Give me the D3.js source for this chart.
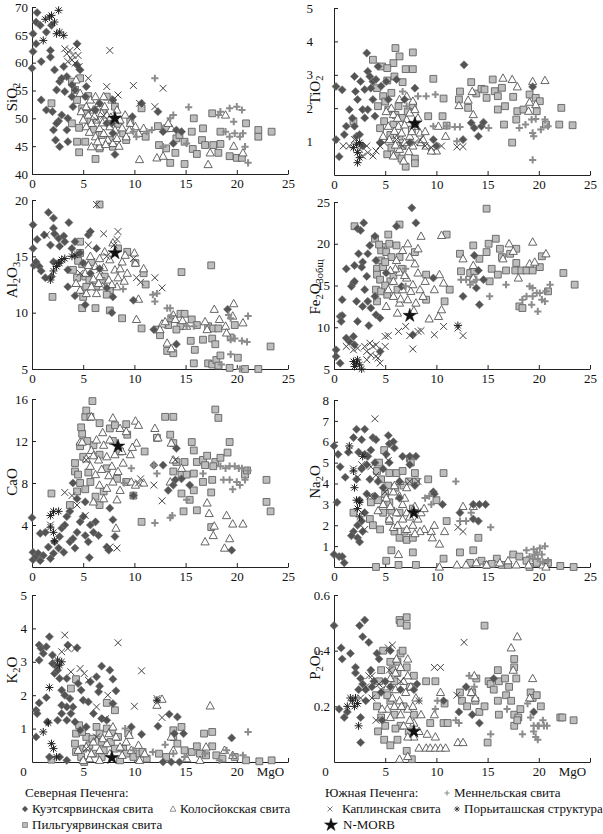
<!DOCTYPE html>
<html>
<head>
<meta charset="utf-8">
<script src="https://cdn.jsdelivr.net/npm/d3@7"></script>
<style>
  body { margin: 0; background: #fff; }
  svg, svg text { font-family: "Liberation Serif", "Times New Roman", "DejaVu Serif", serif; }
</style>
</head>
<body>
<svg id="chart" width="603" height="834" font-family="Liberation Serif, Times New Roman, serif"></svg>
<script>
// values: [MgO, oxide]
var kuetsSiO2 = [[0.5,69],[0.4,67.3],[0.8,66.7],[0.1,65.2],[0.4,63.4],[0.1,62],[0,59],[0.9,60.2],[1.8,62.2],[1.8,61],[1.9,66.7],[1.4,65.5],[0.9,53.3],[1.4,51.5],[2,51.2],[2.1,47.9],[2.3,46.1],[2.7,44.9],[2.6,49.5],[2.9,50.6],[2.4,49.1],[3.4,57.5],[3.2,54.8],[3.9,53.9],[4,52.1],[3.5,50],[3.4,47.9],[3.5,45.8],[2.2,58.7],[2.7,56.6],[2.4,55.1],[2.9,57.2],[4.2,55.1],[4.4,63.4],[4.4,59.6],[4.7,58.7],[3.1,59.3],[3.9,56],[5.3,55.7],[5.2,53.9],[6.6,52.7],[6.2,51.5],[7.3,49.1],[7.9,47.3],[8.1,43.5],[7.8,49.1],[7.9,53.3],[9.8,50.3],[10.7,52.7],[12.3,51.2],[12.8,47.6],[14.1,47.9],[13.8,45.5],[14.6,47.6]];
var kolosSiO2 = [[10.5,42.6],[12.2,42.9],[12.8,43.2],[17.4,43.8],[17.2,41.7],[19.7,45],[20.6,43.8],[18.9,50.6],[13.6,48.2],[13.3,49.1],[4.3,56.9],[4.7,54.5],[5.3,52.1],[5.7,53.3],[6,51.5],[6.5,52.7],[6.8,50.9],[7.1,52.1],[7.3,50.6],[6.3,49.7],[5.8,49.1],[5.3,48.5],[6.6,48.2],[7.6,48.5],[8.1,47.9],[7,47.3],[6.2,46.7],[7.4,46.1],[7.9,45.5],[6.6,44.9],[5.8,44.9],[8.6,49.7],[9.1,50.6],[9.6,49.1],[10.1,48.5],[10.4,47.3],[10.9,48.2],[8.3,51.5],[5.5,50.6],[5,49.7],[7.8,53.3],[7,53.9],[6.2,53.9],[9.2,46.7],[8.3,46.4],[5.6,47.5],[6.9,49.2],[7.7,50.2],[8.8,48.3],[6.1,50.4],[7.2,45.3],[8.5,45],[9.5,47.9],[4.8,51.2],[6.4,45.8]];
var pilgSiO2 = [[3.9,56.6],[4.7,57.2],[4.2,55.1],[4.4,53.3],[4.9,51.8],[3.9,49.1],[4.4,45.8],[4.6,43.9],[5.2,45.8],[6.2,42.7],[5.7,49.7],[6.6,44.6],[7.3,53.9],[8.1,52.1],[7.9,44.9],[7.6,46.1],[8.9,47.3],[9.2,46.1],[1.9,52.7],[10.7,51.8],[11.1,46.7],[12.3,48.6],[12.4,45.2],[13.1,44.6],[13.5,42],[14.1,46.4],[14,43.8],[14.9,45.8],[14.9,41.8],[15.6,47.6],[15.8,50],[15.7,44.5],[16.1,43.6],[16.6,46.1],[16.7,48.2],[16.9,45.2],[17.6,50.9],[17.7,45.2],[18.2,43.8],[18.4,47.6],[18.4,45.4],[19.3,43.2],[20,42.9],[20.9,49.1],[20.5,42.9],[22.1,47.9],[22.1,46.7],[23.4,47.6],[13.1,48.2],[14.4,47],[5.3,50.8],[6,48],[6.8,47],[7,51.2],[8.4,49],[5.5,54],[4.6,48.3],[9.6,49.5]];
var mennelSiO2 = [[12,57.2],[15.3,52],[13.5,50],[13.8,50.6],[11.7,47.9],[11.2,47.6],[12.8,44.9],[18.4,51.2],[19.3,51.8],[20,52.1],[20.5,51.5],[19.7,49.4],[18.9,47.6],[19.3,46.7],[19.8,47.3],[20.6,47.3],[20.8,44.9],[21.1,42],[20.3,46.7],[15.1,45.5],[9.9,47.6],[10.2,46.7],[18.2,50.6]];
var kaplinSiO2 = [[3.2,62.5],[3.7,62.2],[3.4,61.6],[4,61.3],[3.9,60.5],[4.5,61.3],[3.5,60.2],[4.2,59.9],[4.4,62.8],[4.6,59.3],[5.5,57.2],[7.6,62.2],[7.3,55.7],[8.4,54.2],[9.9,55.9],[12.8,55.4],[12,52.1],[10.5,52.7],[6.3,49.7],[5.8,51.5],[7,50.5]];
var poritSiO2 = [[2.6,69.4],[1.9,68.5],[1.3,67.8],[1.7,68.2],[2.7,65.5],[2.4,65.2],[3.1,64.9],[1.1,64],[2.2,67.3]];

var kuetsTiO2 = [[0.2,2.65],[0.8,2.55],[0.2,1.06],[0.5,0.55],[1.5,1.96],[1.8,1.7],[2,1.46],[2.2,1.16],[1,1.21],[1.2,1.46],[2,2.95],[2.1,2.5],[2.3,2.26],[2.6,2.8],[3,2.56],[3.3,3.1],[3.2,3.65],[3.5,2.95],[3.6,2.6],[3.8,2.26],[2.8,1.96],[3,1.71],[3.3,1.96],[3.8,2.8],[4.1,2.86],[4.3,3.25],[4,1.76],[2.8,0.87],[2.5,1.21],[4.5,0.97],[5.3,2.26],[6.1,2.86],[7.9,2.6],[6.9,2.26],[7.9,1.51],[7.4,0.97],[9.7,1.06],[10,0.87],[12.7,3.3],[12.6,1.06],[13.4,1.56],[13.7,1.41],[14.4,1.46],[14.1,1.16],[14.6,1.58],[19.4,2.64],[4.6,2.66],[5.1,2.8]];
var kolosTiO2 = [[16.5,2.9],[17.4,2.86],[17.9,2.64],[19.4,2.8],[20.6,2.83],[13.6,1.81],[13.5,2.5],[12.2,2.08],[13.1,2.24],[19,1.91],[19.7,2.11],[19.1,2.18],[10.9,1.16],[10.2,1.46],[10,0.72],[6.8,0.42],[5.8,0.57],[5.3,1.46],[5.8,1.81],[6.3,1.46],[6.6,1.26],[7.1,1.66],[7.4,1.86],[7.9,1.96],[8,1.46],[8.4,1.26],[6.1,1.06],[6.9,0.97],[7.4,1.16],[6.4,2.26],[7.1,2.36],[7.7,2.21],[5.4,1.06],[7.7,0.87],[8.5,0.97],[9,0.87],[9.5,0.72],[6.4,0.77],[4.8,1.16],[8.2,1.71],[8.7,1.06],[5.9,1.31],[5.6,2],[6.9,1.5],[7.6,1.3],[6.2,1.7],[8.9,1.3],[5.1,1.9],[7.3,0.7],[6,0.9]];
var pilgTiO2 = [[6,3.8],[6.4,3.55],[5.8,3.35],[4.7,3.25],[5.2,3.2],[3.8,3.45],[7.7,3.67],[7,3.17],[7.7,3.17],[5.9,2.95],[6.7,2.78],[5.2,2.83],[9.7,2.88],[10.7,2.29],[4.2,2.6],[4.8,2.36],[5.6,2.46],[4.3,2.06],[5.3,1.96],[6.3,2.06],[4.9,1.61],[5.8,1.51],[6.7,1.71],[7.6,1.36],[7.7,2.08],[9.2,1.76],[10.6,1.76],[11,1.48],[5.2,0.62],[6.1,0.59],[6.6,0.49],[7,0.25],[7.9,0.49],[7.9,0.35],[6.7,0.87],[5.6,0.82],[1.9,1.61],[12.3,2.5],[12.2,2.26],[13.1,2.01],[13.4,2.78],[13.9,2.44],[14.4,2.58],[14.9,2.31],[14.7,2.56],[15.5,2.86],[15.7,2.51],[16,2.36],[16.4,2.61],[16,1.96],[16.7,2.06],[16.6,1.51],[17.4,0.97],[17.5,2.34],[17.9,1.91],[18.5,1.96],[19.1,2.41],[19.7,2.31],[20.1,2.21],[19.8,1.91],[20.7,1.51],[22,1.51],[22.2,2.01],[23.3,1.49],[17.8,1.66],[5,2.2],[6,1.8],[7.2,1.9],[5.5,1.2],[6.4,1.15],[4.5,1.4]];
var mennelTiO2 = [[6.7,2.5],[8.2,2.36],[9,2.36],[9.9,2.41],[9.7,1.46],[11,1.46],[11.8,1.44],[12.3,1.44],[12,1.01],[15.1,1.41],[18.1,1.41],[18.7,1.51],[19.3,1.66],[19.7,1.68],[20.6,1.66],[19.4,1.26],[19.5,1.16],[20.2,1.36],[20.9,1.46],[19.4,0.45],[7.1,2.06]];
var kaplinTiO2 = [[0.9,0.87],[1.5,0.87],[2.5,0.77],[2.8,0.57],[3.3,0.67],[3.8,0.57],[4.1,0.72],[4.5,0.87],[4.9,0.97],[3.2,0.87],[2,1.06],[7.9,0.97],[8.4,1.06],[8.9,0.87],[9.5,0.82],[10.5,0.87],[12,0.84],[12.6,0.85],[6.1,1.06],[6.7,0.87]];
var poritTiO2 = [[2.2,0.92],[2.3,0.67],[2.3,0.37],[2.5,0.52],[1.9,0.82],[2.5,0.97]];

var kuetsAl2O3 = [[0.1,17.8],[0.1,15.7],[0.2,14.2],[0.4,14.5],[0.5,16.5],[0.7,14.1],[0.9,13.7],[1.2,16.9],[1.6,18.9],[2.1,18.4],[2.1,17.5],[2.2,17],[1.8,16],[2.6,16.6],[2.7,15.9],[1.3,13.1],[1.9,13.2],[2.1,14.5],[3.1,16.8],[3.6,18],[3.2,16.3],[3.9,15.7],[4.2,16.3],[3.5,13.8],[3.5,12.3],[4.2,11.5],[5.2,10.7],[5.5,16.9],[5.7,17.2],[6.3,15.7],[6.6,13.9],[7.3,12.2],[7.8,10],[7.9,11.4],[9.9,11.1],[11.9,8.5],[14.1,7.2],[19.1,10.3],[4.7,15.3],[5,14.4],[5.7,13.5]];
var kolosAl2O3 = [[7.1,15.4],[7.9,16.2],[8.8,14.5],[9.1,15.1],[10,15.3],[10.1,14.4],[10.9,13.9],[10.4,11.2],[10.2,9.4],[12.7,9],[12.5,8.5],[13,9.2],[13.2,7.3],[13.6,6.8],[13.8,9.8],[14,9.4],[14.7,9.3],[15.1,8.8],[16.9,9.2],[17.8,10.3],[18.3,9.4],[18.9,8.8],[19.7,10.8],[19.6,9.7],[19,8.2],[20.6,9.1],[17.1,8.5],[5.7,15],[6.2,14.1],[6.6,13.2],[6.9,12.3],[7.5,12.9],[8.1,13.8],[8.4,13.1],[5.8,12.3],[5.3,11.7],[6.3,11.7],[4.7,12],[7.6,14.7],[6.6,14.8],[8.6,13.9],[9.3,13.5],[8.3,12.3],[4.3,12.6],[5.2,13.5],[6,13],[7,14],[7.8,12.5],[9,12.8],[6.5,12.6],[5.5,14.2]];
var pilgAl2O3 = [[6.6,19.6],[4.7,16.3],[4.7,15.3],[4.9,14.3],[5.2,13.2],[4.4,13.1],[4,13.8],[5,12],[5.3,12.3],[4.9,10.4],[6.2,10.4],[5,11.4],[2,11.4],[7.6,10.2],[8.8,9.5],[8.4,15.7],[9.3,15.4],[10.1,14.4],[10.9,13.5],[11.1,12.5],[10.7,8.6],[14.6,13.6],[17.5,14.2],[7.1,13.2],[6.3,12.3],[7.6,12],[12.3,8.5],[12.5,8],[13.2,6.6],[13.8,6.4],[14.5,9.9],[14.9,9.9],[14.5,8.8],[14.1,8.5],[13.3,8.9],[13.6,9.5],[15.6,9.4],[16.1,8.9],[15.5,7.5],[15.9,6.7],[15.8,5.5],[16.7,7.6],[17.2,8.8],[17.6,7.7],[17.9,7.2],[17.7,8.6],[18.2,8.6],[17.2,5.5],[17.6,5.4],[18,5.8],[18.4,6.2],[18.2,5.3],[19.3,5.1],[19.8,8.9],[20.1,6],[20.8,5],[22.1,5],[23.3,7],[19.4,7.8],[5.8,14.5],[6.8,12.8],[5.6,12.9],[4.5,14.6],[7.3,11.6]];
var mennelAl2O3 = [[8.9,12.1],[11.8,11.6],[12.2,11.7],[12,11],[13.2,10.4],[13.5,10.4],[13.6,9.7],[15.1,8.8],[15.8,8.8],[19.2,9.8],[19.4,9.5],[21.1,9.7],[19.4,7.6],[19.8,7.7],[20.5,7.5],[21,7.4],[19.4,6.3],[18.5,5.4],[20.3,5]];
var kaplinAl2O3 = [[6.3,19.6],[5.5,16],[7,17],[8.4,17.2],[8.3,16.5],[8,16],[9.9,14.8],[10.2,13.1],[10.6,12.7],[12,13.1],[12.7,12.2],[4.7,13.5],[1.4,16.9],[6.6,13.8],[7.3,15]];
var poritAl2O3 = [[2.4,14.1],[2.9,14.7],[2.6,14.4],[3.2,14.8],[1.8,12.9],[4.2,15.1],[2.1,13.7],[3.9,15],[2.7,14.4]];

var kuetsFe2O3 = [[0.2,7.3],[0.2,6.5],[0.6,5.7],[0.6,11.3],[0.8,11.4],[0.7,10.7],[0.8,13.3],[1.2,17],[1.7,14.9],[1.9,15.3],[2,17.4],[2.2,13.1],[2.3,10.7],[2,15.5],[2.3,21.8],[2.6,21.6],[2.9,22.5],[2.4,18.8],[2.8,17.8],[2.7,17.2],[3.3,18.8],[3.5,19.8],[3.2,16.1],[3,14.5],[3.3,13.1],[2.8,12.5],[3.6,12.3],[4,13.7],[4,20.9],[4.1,18],[4.1,11.5],[4.5,11.1],[3.4,10.2],[1.9,8.9],[1.5,8.3],[2,7.9],[1.2,8.7],[4.5,7.1],[6.1,22.1],[7.6,24.3],[8,22.5],[6.6,14.9],[9.7,15.9],[12.6,13.7],[14.2,12.7],[13.7,18.6],[13.9,14.7],[14.1,16.8],[14.6,15.7],[7.7,9.1],[5.1,16.5]];
var kolosFe2O3 = [[7.2,20],[8.5,20.9],[10.5,21],[10.3,16.3],[10.7,15.3],[9.8,14.5],[10.5,12.1],[10.2,11.3],[9.3,11],[8.4,14.5],[6.7,19.2],[7.4,18.4],[7.9,17.6],[8.2,16.5],[6.1,18],[6.4,16.6],[7.1,15.9],[7.7,15.1],[6.7,14.5],[5.8,13.7],[6.4,12.9],[7.2,13.3],[8,12.9],[8.7,13.7],[5.8,15.5],[5.3,14.5],[6.2,11.7],[5.1,12.5],[13.6,17.4],[13.6,15.9],[12.6,18.2],[16.5,18.2],[17.1,20],[17.5,19.1],[18,15.9],[19.1,17.6],[19.4,20.2],[19.6,17.8],[20.7,18.8],[8.2,19.4],[6,17],[6.9,16.2],[7.5,14.3],[6.5,13.4],[7.8,12],[5.5,16.8],[8.9,15.5]];
var pilgFe2O3 = [[2,22.1],[4,20.6],[6.4,22.3],[5.3,21.1],[4.8,19.6],[5.4,20],[4.6,19.2],[5.1,19],[4.6,18],[4.2,17],[4.2,16.3],[4.5,15.7],[4.8,17.2],[5.6,18.4],[6.1,19.8],[6.4,18.4],[6.6,17],[4.1,14.5],[4.6,14.3],[4.2,13.1],[5.2,13.9],[5.5,15.5],[7.9,19],[9,16.3],[11,21.1],[10.8,13.1],[11.3,14.5],[14.9,24.2],[13.6,19.8],[12.3,18.8],[12.4,16.7],[13.3,16.5],[14.2,18.2],[13.7,16.7],[13.6,15.7],[14.9,19],[15.1,20],[15.8,20.6],[15.4,17],[15.2,15.5],[16.2,19.4],[16.4,18.4],[16,16.3],[16.8,16.8],[17.2,18.8],[17.8,19.4],[17.8,17.7],[17.7,16.8],[18.3,16.8],[18.8,16.8],[19.4,16.8],[20.1,17.2],[20.3,18.5],[18.1,12.5],[18.4,12.3],[22.4,16.5],[23.5,15.1],[20.9,14.3],[9,13.3],[5,17.8],[5.8,16.2],[6.2,14.5],[5,15],[4.4,19.9]];
var mennelFe2O3 = [[7,17],[7,14.9],[12.9,15.7],[12.4,15.7],[13.3,15.1],[13.9,15.7],[15.2,13.7],[16.8,15.1],[18.4,13.3],[18.8,13.7],[19.1,14.9],[19.4,14.7],[19.8,14.1],[19.3,12.7],[19.9,11.9],[20.3,13.3],[20.6,13.1],[20.7,14.3],[21.1,15.1],[19.4,13.7],[20.1,14.1]];
var kaplinFe2O3 = [[1.2,7.7],[1.9,7.3],[2.3,7.5],[3,7.7],[3.5,8.1],[3.8,7.7],[3.2,7.1],[3.6,6.7],[4.1,6.5],[3.2,6.1],[4.1,7.9],[5,8.9],[5.3,9],[4.5,5.7],[4.3,6.3],[6.3,9.5],[7,10.1],[7.4,9],[7.7,7.4],[8.2,9.5],[8.5,9.6],[9.8,9.1],[10.7,10.1],[12.1,9.9],[12.6,9],[5,7.7]];
var poritFe2O3 = [[2.2,5.7],[2,5.3],[2.5,5.5],[2.3,6.1],[1.9,5.9],[2.7,5],[12.1,10.2]];

var kuetsCaO = [[0,4.7],[0.1,1.4],[0.1,0.7],[0.4,1],[0.6,1.3],[0.8,0.6],[1.1,1.1],[0.8,3.2],[1.3,3.3],[1.6,1.9],[1.8,0.8],[2.1,1.3],[2.2,2.4],[2.6,1.8],[2.7,2.9],[2.9,3.7],[3.2,4],[3.4,4.8],[3.7,5.3],[3.1,1.4],[3.7,2.4],[4.2,1.8],[4.4,3.3],[4,2.7],[4.7,4.3],[5,4.8],[5.2,3],[5.5,2.4],[5.6,0.9],[6,3.3],[6.5,3],[5.7,4],[6.2,4.3],[4,8],[4.4,6.5],[5.2,6.2],[7.3,1.9],[7.5,1.6],[7.9,4.5],[8.1,2.9],[7.6,5.6],[9.9,6.8],[11.9,9.7],[12.8,9.7],[14.1,11.3],[13.8,7.8],[13.3,7.3],[14.6,8.4],[15.4,7.8],[19.5,1.6],[14,8.3]];
var kolosCaO = [[4.7,11.9],[5.8,14.3],[7.9,14.2],[8.6,13.2],[9.2,12.9],[10.1,13.9],[10.4,13.5],[10.2,11.8],[9.6,10.7],[8.9,9.9],[8.4,9.1],[7.9,8.1],[7.3,7.5],[6.6,7.8],[6.2,8.8],[5.7,9.6],[6.5,10.2],[7,11.6],[7.6,12.1],[6.3,12.1],[5.8,11.1],[7.3,10.5],[8.1,10.7],[7.8,9.6],[8.6,7.3],[8.3,6.4],[7,6.5],[6,6.2],[9.7,8.1],[10.1,7.8],[10.9,8],[12,13.2],[12.3,12.3],[13.6,11.8],[13.8,10.2],[13.5,8.1],[14.6,9.4],[17.1,6.1],[17.3,5.1],[16.9,2.4],[17.7,3],[17.8,3.9],[18.8,1.8],[19,4.9],[19.3,2.7],[19.6,4.1],[20.6,4.1],[8.2,3.7],[4.9,11.9],[6.8,9.3],[7.5,8.7],[6,10.6],[8.8,11],[9.8,11.4],[5.3,10.3],[6.9,12.8]];
var pilgCaO = [[4.9,12.7],[4.7,11.5],[5.2,14.3],[5.3,14.9],[5.9,15.8],[5.7,14.3],[4.8,13.3],[4.2,9.9],[4.2,9.1],[4.5,8.8],[4.7,8],[4.4,7.2],[3.7,5.9],[1.9,7],[6.6,13.7],[7.6,13.2],[8.1,13.5],[9.2,13.6],[9.3,12.6],[8.6,11],[6.6,10.7],[7.3,9.4],[8.3,8.4],[5.7,8.1],[6.2,6.7],[7,7.2],[6.6,5.9],[9.2,8.1],[9.9,6.8],[11,11],[10.7,4.3],[12.2,12.3],[13,14.3],[13.8,14.3],[13.5,12.6],[13.8,11.8],[14.1,10],[13.8,9.1],[14.6,8.8],[14.6,7],[14.8,5.3],[14.9,10],[15.1,8.8],[15.4,6.4],[15.6,11.9],[15.8,11.1],[15.8,8.9],[15.8,7.3],[16.1,5.4],[16.1,10],[16.7,10.2],[16.7,8.1],[17.1,10.6],[17.6,8.3],[17.5,7.1],[17.5,3.8],[17.9,15],[18.2,14.2],[17.9,10],[18.4,10.4],[19.1,10.9],[19.3,11.9],[20.8,8.8],[21,9.2],[22.9,8.3],[22.9,6.2],[23.3,5.3],[17.7,9.6],[16.9,9.7],[5,10.5],[5.5,9],[6,11.6],[5.2,7.4],[7.9,12],[5.4,12]];
var mennelCaO = [[9.7,9.4],[9,8],[11.9,9.7],[12.2,8.9],[12,4.2],[13.5,4.7],[13.7,4.9],[15.1,6.4],[18.4,9.6],[18.9,9.4],[19.3,9.6],[19.8,9.6],[20.2,9.4],[20.5,9.4],[21.1,9.2],[18.7,8.3],[19.3,8.3],[19.6,7.4],[20,8.1],[20.3,7.8],[20.8,8.3],[16.7,8.9]];
var kaplinCaO = [[3.2,7.1],[4.4,5.9],[5.2,4.9],[3.9,6.8],[5.3,10.2],[7.6,1.9],[8.3,1.8],[10.4,8],[10.6,8.4],[11.9,7.8],[12.7,6.3],[14,10.2],[1.8,4]];
var poritCaO = [[1.8,4.9],[2.1,5.3],[2.6,5.3],[1.8,3.8],[2.2,2.5],[2.1,3.3]];

var kuetsNa2O = [[0,5.8],[0.4,5.4],[0.6,4.8],[0.3,3.1],[0,0.6],[0.5,0.5],[0.8,0.5],[1,0.2],[1.1,4.3],[1.4,5.5],[1.9,6.2],[2.2,6.6],[2.7,6.1],[3,6.6],[2.4,5.5],[3,5.4],[3.3,5.3],[3.6,5.6],[3.8,6.2],[4.1,6.1],[4,5],[3.2,4.9],[2.7,4.7],[2.2,4.2],[3.5,4.2],[4.3,4.1],[4.8,3.8],[4,3.4],[3.2,3.5],[2.5,3.2],[3,2.6],[2.7,2.2],[2.3,2],[1.9,1.7],[1.7,1.5],[2.3,1.4],[2.5,1.2],[2.8,1.7],[5.3,6.3],[5.4,5.9],[5.8,6],[5.9,5.7],[5.1,5.4],[4.8,4.7],[5.4,5],[6.7,5.3],[7.4,5.3],[8,5.3],[7.4,4.9],[7.9,3.9],[9.7,3.6],[9.8,3.5],[10.6,3],[12.3,2.6],[13.6,3],[14.2,3],[14.8,3],[13.6,2.3],[14.1,2.2],[6.4,4.1],[6.4,3.3]];
var kolosNa2O = [[5.1,3.3],[5.8,3.6],[6.4,3.4],[6.7,3],[6.1,2.6],[5.4,2.3],[5.8,1.9],[6.7,2.3],[7.1,1.8],[7.7,2],[8.2,2.3],[8.5,2.6],[8.8,1.8],[7.1,2.6],[4.8,3],[4.3,2.7],[6.4,4.1],[7.1,3.8],[8.4,1.7],[9.5,1.7],[9.6,1.4],[9.8,2],[10.8,1.7],[10.3,1.1],[10.3,0],[12.6,2.9],[13.6,2.9],[6.3,0.6],[12,0.1],[12.9,0.1],[13.9,0.2],[14.9,0.1],[16.2,0.2],[17,0.3],[17.8,0.1],[19,0.1],[20.4,0.1],[20.7,0],[7.9,2.9],[5.5,2.9],[6.9,3.3],[7.4,2.4],[6.2,2],[7.9,1.6],[5.9,3.9],[8.8,2.8]];
var pilgNa2O = [[4.2,4.6],[4.4,5],[4.9,5.6],[5.4,4.5],[6.1,4.5],[6.7,4.6],[7.4,5.2],[7.5,5],[7.9,4.5],[8,4.1],[7.3,4.1],[5.3,3.9],[4.3,3.2],[3.6,3.1],[3.5,2.3],[3.8,2],[4.5,1.8],[1.9,2.6],[4.8,2.6],[5.4,2.2],[5.9,1.7],[6.4,1.4],[7.1,1.3],[7.7,1.4],[6.4,2.6],[7.7,2.8],[5.4,3.1],[9.2,4.2],[10,3.2],[10.7,4.5],[11,2.2],[10.7,0.4],[5.6,0.8],[5.1,0.3],[6.3,0.1],[4.1,0],[7.7,0.7],[8,0.1],[12.3,0.7],[13.6,0.8],[14.1,1.4],[13.3,0.2],[14.4,0.3],[14.9,0.1],[15.9,0.4],[16.4,0.1],[17.5,0.6],[18.1,0.5],[18.8,0.3],[19.8,0.2],[20.9,0.2],[22.1,0.05],[23.4,0],[17,0.1],[15.4,0.15],[19.1,0],[5,3.5],[6,3.8],[6.8,3.9],[5.6,2.7],[6.9,1.7],[4.6,4.2]];
var mennelNa2O = [[8.9,3.3],[9.3,3.4],[9.5,3],[11.9,4.1],[12.3,2.2],[12.9,2.2],[13.4,2.6],[15.3,1.9],[18.8,0.8],[19.5,0.85],[19.8,0.7],[19.1,0.5],[19.4,0.4],[19.9,0.4],[20.3,0.6],[20.6,1],[20.9,0.3],[20.4,0.25],[20.1,0.9],[19.6,0.6]];
var kaplinNa2O = [[4,7.1],[1.5,5.6],[1.9,4.7],[2.3,4.3],[2.7,4.9],[3.6,4.8],[4.1,4.4],[3.5,3.4],[5.3,5.1],[3,1.8],[2.7,2.6],[7.4,4.1],[8.2,4.1],[12.1,1.9],[12.6,1.7],[5,3.6]];
var poritNa2O = [[1.5,5.8],[2,3.8],[2.2,3.2],[2.5,3.1],[2.3,2.8],[2.5,2.4],[2.8,5.3],[1.9,4.6]];

var kuetsK2O = [[0.4,0.75],[0.4,1.55],[0.5,1.45],[0.7,1.77],[0.7,3.5],[0.9,3.4],[0.7,3.05],[1.1,3.25],[1.4,3.45],[1.7,3.75],[1.4,1.93],[1.5,1.2],[2,3.2],[2,2.95],[2.4,2.85],[2.2,2.65],[2.5,2.75],[2.7,2.5],[3.4,2.5],[3.5,3.5],[4.4,3.42],[2.9,2.15],[2.9,1.7],[2.9,1.45],[2.5,1.25],[3.2,2],[3.4,1.65],[3.7,1.9],[3.8,1.45],[3.4,1.25],[4.2,1.2],[4,1.65],[4.5,2.35],[4.8,2.15],[5,1.85],[5.5,1.8],[5.7,2.4],[6.3,2.55],[6.8,2.87],[6.6,2.27],[6.5,2.1],[6,1.45],[6.8,1.3],[7.3,1.25],[7.6,2.75],[7.9,2.48],[8.2,2.13],[7.9,1.75],[9.7,1.05],[10.7,0.83],[12.3,1.07],[13.4,1.43],[14.2,1.35],[13.9,0.85],[14.8,0.85],[19.5,0.72],[1.7,0.15],[2.7,0.15],[4.7,0.95],[5.3,1.05],[3.4,0.05],[12.8,0],[13.6,0],[14.4,0]];
var kolosK2O = [[4.5,0.35],[5.3,0.45],[6,0.6],[6.6,0.35],[7.3,0.55],[7.9,1.05],[8.2,0.75],[8.6,0.45],[9.2,0.6],[9.7,0.35],[10.4,0.5],[10.5,0.05],[12.2,1.7],[12.7,1.88],[13.6,0.75],[13.8,0.35],[15.1,0.1],[16.4,0.05],[17,0.45],[17.4,1.68],[18.8,0.35],[19.6,0.2],[7.6,0.25],[5.6,0.1],[6.6,0.05],[5,0.05],[5.8,0.25],[6.9,0.7],[7.5,0.85],[8.8,0.2],[9.5,0.8],[11,0.25]];
var pilgK2O = [[1.9,0.07],[4.3,2.48],[3.8,2.2],[4.6,1.1],[4.3,0.85],[4.2,0.55],[4.3,0.3],[4.8,0.15],[5.1,0],[5,0.4],[5.3,0.75],[5.6,0.5],[6,0.25],[6.3,1.05],[6.6,0.85],[6.8,0.6],[7.3,1],[7.3,1.77],[8.1,1.55],[7.8,0.9],[8.4,0.75],[8.1,0.4],[9.4,0.85],[8.9,0.4],[9.9,0.15],[10.5,0.25],[11.2,0.1],[10.8,0.3],[12.4,0.25],[13.1,0.15],[13.8,0.95],[13.8,0.75],[14.6,1.05],[14.2,0.55],[14.9,0.35],[15.6,0.3],[16.1,0.47],[16.4,0.25],[16.8,0.85],[17.6,0.9],[17.6,0.47],[18,0.2],[18.6,0.1],[19.8,0.15],[20.9,0.05],[22.2,0.02],[23.4,0.05],[6.8,0.15],[8.6,0.05],[17,0.2],[4.9,0.9],[5.9,0.7],[7,0.35],[7.7,0.6],[9.2,0.25]];
var mennelK2O = [[9.1,1],[9.9,0.35],[11.8,0.3],[13,0.52],[13.8,0.25],[14.9,0.15],[16.9,0.25],[19,0.35],[19.6,0.2],[20.6,0.2],[21.1,0.9],[18.3,0.05]];
var kaplinK2O = [[3.2,3.8],[2.9,3.3],[3.5,3.4],[4.2,3.4],[3.8,2.7],[4.7,2.8],[5.1,2.65],[5.5,2.45],[6.3,1.65],[7.2,1.3],[7.4,2],[8.4,3.57],[10.7,2.73],[10,1.67],[12.2,1.9],[12.7,1.33],[6.3,0.75],[5.3,0.4]];
var poritK2O = [[2.5,3.05],[2.7,2.9],[1.1,0.9],[1.6,1.17],[1.7,2.23],[1.9,0.55],[2.1,0.4],[2.4,0.15],[12.2,1.85],[2.9,3]];

var kuetsP2O5 = [[0,0.49],[0.7,0.41],[0.8,0.37],[0.5,0.19],[1,0.16],[1.3,0.18],[1.6,0.39],[2.1,0.34],[2.5,0.49],[3,0.51],[2.8,0.45],[3.4,0.43],[2.1,0.32],[2.6,0.3],[2.4,0.26],[2.8,0.28],[3.1,0.26],[3.1,0.22],[2.6,0.16],[2.6,0.07],[3.6,0.33],[3.9,0.29],[3.7,0.27],[4.2,0.39],[4.4,0.37],[4.6,0.25],[5,0.29],[5.5,0.4],[5.5,0.27],[6.5,0.26],[7.8,0.26],[8.1,0.28],[10.7,0.22],[12.2,0.18],[12.9,0.27],[13.5,0.17],[14.2,0.14],[15.6,0.3],[19.5,0.18],[4.7,0.15]];
var kolosP2O5 = [[6.1,0.37],[6.5,0.34],[6.8,0.29],[7.2,0.31],[5.2,0.27],[5.7,0.23],[6.4,0.22],[7,0.25],[7.5,0.27],[8,0.23],[5.2,0.19],[5.9,0.2],[6.5,0.17],[7.2,0.19],[7.8,0.14],[8.3,0.11],[7.8,0.09],[7.2,0.09],[8.3,0.05],[9,0.05],[9.4,0.05],[9.9,0.05],[10.4,0.05],[10.9,0.05],[9.1,0.1],[9.9,0.09],[9.8,0.17],[10.4,0.25],[6.4,0.01],[7.2,0.02],[5.5,0.16],[4.7,0.19],[6.8,0.13],[12.1,0.07],[12.6,0.07],[13.7,0.31],[13.8,0.23],[13.4,0.25],[17.3,0.41],[17.5,0.33],[17.9,0.45],[19.4,0.3],[19.1,0.23],[7.2,0.37],[6,0.32],[6,0.26],[6.6,0.2],[7.4,0.15],[5.5,0.3],[8.5,0.17],[7.7,0.2]];
var pilgP2O5 = [[4.8,0.4],[5.5,0.36],[6.2,0.36],[6.5,0.39],[6.7,0.4],[6.4,0.51],[6.5,0.5],[7.1,0.52],[7.1,0.49],[7.1,0.34],[6.2,0.32],[5.9,0.29],[4.6,0.33],[4.4,0.29],[4.1,0.24],[4.2,0.2],[4.6,0.16],[5,0.13],[4.3,0.11],[4.9,0.08],[5.5,0.06],[5.5,0.22],[5.9,0.17],[6.5,0.13],[6.2,0.08],[7.3,0.11],[7.8,0.17],[7.8,0.31],[7.1,0.04],[7.6,0.01],[9,0.29],[9.4,0.14],[9.9,0.29],[10.8,0.21],[10.7,0.14],[11.1,0.14],[12.3,0.25],[12.5,0.22],[13,0.2],[13.5,0.25],[13.9,0.3],[13.8,0.22],[14.2,0.18],[14.7,0.2],[14.7,0.49],[15,0.07],[15.1,0.29],[15.3,0.28],[15.6,0.26],[16,0.33],[16.1,0.29],[16,0.22],[16.1,0.17],[16.7,0.3],[16.8,0.24],[17.1,0.27],[17.3,0.22],[17.6,0.37],[17.6,0.34],[17.8,0.3],[17.6,0.17],[17.6,0.13],[18,0.16],[18.2,0.19],[19.2,0.25],[19.4,0.23],[19.8,0.24],[20.2,0.2],[22.1,0.16],[22.3,0.16],[23.4,0.15],[17.9,0.15],[5.2,0.24],[6,0.12],[6.8,0.2],[5.7,0.33],[7.4,0.27]];
var mennelP2O5 = [[10.1,0.22],[9.9,0.19],[11.9,0.15],[12.2,0.14],[13.2,0.31],[13.7,0.27],[15.3,0.1],[16.9,0.19],[18.4,0.1],[18.9,0.21],[19.2,0.16],[19.5,0.13],[19.7,0.09],[19.9,0.13],[20.4,0.15],[20.8,0.13],[20.5,0.13],[20,0.13],[19.5,0.11],[19.9,0.08],[8.3,0.22]];
var kaplinP2O5 = [[2.6,0.23],[3.1,0.27],[3.4,0.31],[3.7,0.31],[4.4,0.28],[3.7,0.23],[4.1,0.15],[5.3,0.41],[5.7,0.42],[5.4,0.33],[6.5,0.29],[9.8,0.34],[10.4,0.34],[12,0.24],[12.7,0.43],[8.3,0.22],[4.6,0.26]];
var poritP2O5 = [[1.6,0.23],[1.8,0.22],[2.1,0.23],[2.3,0.21],[2.4,0.13],[1.3,0.2],[2,0.2]];

// N-MORB composition, one point per diagram
var nmorbMgO = [8.1, 7.9, 8.1, 7.4, 8.4, 7.8, 7.8, 7.8];
var nmorbOxide = [50.0, 1.54, 15.3, 11.4, 11.5, 2.6, 0.13, 0.11];

// panel keys, axis domains and tick labels
var oxides = ["SiO2", "TiO2", "Al2O3", "Fe2O3", "CaO", "Na2O", "K2O", "P2O5"];
var yDomains = [[40,70],[0,5],[5,20],[5,25],[0,16],[0,8],[0,5],[0,0.6]];
var yTicks = [[40,45,50,55,60,65,70],[1,2,3,4,5],[5,10,15,20],[5,10,15,20,25],[4,8,12,16],[1,2,3,4,5,6,7,8],[1,2,3,4,5],[0.2,0.4,0.6]];
var xTicks = [0, 5, 10, 15, 20, 25];
// axis titles: [text, subscript?]
var yTitles = [
  [["SiO",0],["2",1]], [["TiO",0],["2",1]], [["Al",0],["2",1],["O",0],["3",1]],
  [["Fe",0],["2",1],["O",0],["3общ",1]], [["CaO",0]], [["Na",0],["2",1],["O",0]],
  [["K",0],["2",1],["O",0]], [["P",0],["2",1],["O",0],["5",1]]
];

var FONT = "Liberation Serif, Times New Roman, serif";
var svg = d3.select("#chart");

// marker shapes
var shapes = {
  square: "M-3.4,-3.4H3.4V3.4H-3.4Z",
  diamond: "M0,-4.1L4.1,0L0,4.1L-4.1,0Z",
  triangle: "M0,-4.3L4.1,3.1L-4.1,3.1Z",
  plus: "M-3.6,0H3.6M0,-3.6V3.6",
  cross: "M-3.4,-3.4L3.4,3.4M-3.4,3.4L3.4,-3.4",
  aster: "M0,-4V4M-4,0H4M-2.9,-2.9L2.9,2.9M-2.9,2.9L2.9,-2.9",
  star: d3.symbol().type(d3.symbolStar).size(58)()
};
var styles = {
  square:   {fill: "#bdbdbd", stroke: "#626262", sw: 0.9},
  diamond:  {fill: "#545454", stroke: "#7a7a7a", sw: 0.6},
  triangle: {fill: "#fff", stroke: "#555", sw: 0.9},
  plus:     {fill: "none", stroke: "#8c8c8c", sw: 2},
  cross:    {fill: "none", stroke: "#444", sw: 1},
  aster:    {fill: "none", stroke: "#222", sw: 1},
  star:     {fill: "#111", stroke: "#111", sw: 0.5}
};

var series = [
  {shape: "square",   data: [pilgSiO2, pilgTiO2, pilgAl2O3, pilgFe2O3, pilgCaO, pilgNa2O, pilgK2O, pilgP2O5]},
  {shape: "triangle", data: [kolosSiO2, kolosTiO2, kolosAl2O3, kolosFe2O3, kolosCaO, kolosNa2O, kolosK2O, kolosP2O5]},
  {shape: "diamond",  data: [kuetsSiO2, kuetsTiO2, kuetsAl2O3, kuetsFe2O3, kuetsCaO, kuetsNa2O, kuetsK2O, kuetsP2O5]},
  {shape: "plus",     data: [mennelSiO2, mennelTiO2, mennelAl2O3, mennelFe2O3, mennelCaO, mennelNa2O, mennelK2O, mennelP2O5]},
  {shape: "cross",    data: [kaplinSiO2, kaplinTiO2, kaplinAl2O3, kaplinFe2O3, kaplinCaO, kaplinNa2O, kaplinK2O, kaplinP2O5]},
  {shape: "aster",    data: [poritSiO2, poritTiO2, poritAl2O3, poritFe2O3, poritCaO, poritNa2O, poritK2O, poritP2O5]},
  {shape: "star",     data: oxides.map(function(k, i) { return [[nmorbMgO[i], nmorbOxide[i]]]; })}
];

// layout: columns and rows in pixels
var cols = [[32, 288], [334, 590]];
var rows = [[174, 7], [369, 200], [567, 399], [762, 595]];
var rowsRight = [[175, 8], [369, 202], [567, 400], [762, 595]];
var titleY = [97, 90, 280, 287, 482, 482, 670, 665];
var yPad = [4, 21, 4, 4, 4, 5, 5, 4];

function fmt(v) { return String(v); }

oxides.forEach(function(key, i) {
  var c = i % 2, r = Math.floor(i / 2);
  var yr = c === 0 ? rows[r] : rowsRight[r];
  var x = d3.scaleLinear().domain([0, 25]).range(cols[c]);
  var y = d3.scaleLinear().domain(yDomains[i]).range(yr);
  var g = svg.append("g");
  var bottom = r === 3;

  var xa = g.append("g")
    .attr("transform", "translate(0," + yr[0] + ")")
    .call(d3.axisBottom(x).tickValues(xTicks).tickSizeInner(-4).tickSizeOuter(0).tickPadding(5)
      .tickFormat(function(d) { return bottom && d === 25 ? "MgO" : fmt(d); }));
  var ya = g.append("g")
    .attr("transform", "translate(" + cols[c][0] + ",0)")
    .call(d3.axisLeft(y).tickValues(yTicks[i]).tickSizeInner(-4).tickSizeOuter(0).tickPadding(yPad[i])
      .tickFormat(fmt));

  [xa, ya].forEach(function(a) {
    a.attr("font-family", FONT).attr("font-size", 13);
    a.selectAll("path, line").attr("stroke", "#222");
    a.selectAll("text").attr("fill", "#111").attr("font-family", FONT);
  });
  if (bottom) {
    xa.selectAll(".tick text").attr("dx", function(d) { return d === 0 ? -9 : d === 25 ? -18 : 0; });
  }

  // axis title
  var t = g.append("text")
    .attr("transform", "translate(" + (c === 0 ? 17 : 320) + "," + titleY[i] + ") rotate(-90)")
    .attr("text-anchor", "middle")
    .attr("font-family", FONT)
    .attr("font-size", 15)
    .attr("fill", "#111");
  var sub = false;
  yTitles[i].forEach(function(p) {
    var ts = t.append("tspan").text(p[0]);
    if (p[1] && !sub) { ts.attr("dy", 3).attr("font-size", 10.5); sub = true; }
    else if (!p[1] && sub) { ts.attr("dy", -3); sub = false; }
    else if (p[1]) ts.attr("font-size", 10.5);
  });

  // points
  series.forEach(function(s) {
    var st = styles[s.shape];
    g.append("g").selectAll("path")
      .data(s.data[i])
      .enter().append("path")
      .attr("d", shapes[s.shape])
      .attr("transform", function(d) { return "translate(" + x(d[0]) + "," + y(d[1]) + ")"; })
      .attr("fill", st.fill)
      .attr("stroke", st.stroke)
      .attr("stroke-width", st.sw);
  });
});

// legend
var legendHeads = [["Северная Печенга:", 25, 797], ["Южная Печенга:", 325, 797]];
var legendItems = [
  ["diamond", "Куэтсярвинская свита", 25, 809],
  ["triangle", "Колосйокская свита", 173, 809],
  ["square", "Пильгуярвинская свита", 25, 825],
  ["plus", "Меннельская свита", 447, 793],
  ["cross", "Каплинская свита", 330, 809],
  ["aster", "Порьиташская структура", 457, 809],
  ["star", "N-MORB", 331, 825]
];
var lg = svg.append("g").attr("font-size", 13).attr("font-family", FONT).attr("fill", "#111");
lg.selectAll("text.head").data(legendHeads).enter().append("text")
  .attr("class", "head")
  .attr("x", function(d) { return d[1]; })
  .attr("y", function(d) { return d[2]; })
  .text(function(d) { return d[0]; });
var li = lg.selectAll("g.item").data(legendItems).enter().append("g")
  .attr("class", "item")
  .attr("transform", function(d) { return "translate(" + d[2] + "," + d[3] + ")"; });
li.append("path")
  .attr("d", function(d) { return shapes[d[0]]; })
  .attr("transform", function(d) { return d[0] === "star" ? "scale(0.95)" : "scale(0.72)"; })
  .attr("fill", function(d) { return styles[d[0]].fill; })
  .attr("stroke", function(d) { return styles[d[0]].stroke; })
  .attr("stroke-width", function(d) { return d[0] === "plus" ? 1.6 : styles[d[0]].sw; });
li.append("text")
  .attr("x", function(d) { return d[0] === "star" || d[0] === "cross" ? 12 : 7; })
  .attr("y", 4)
  .text(function(d) { return d[1]; });
</script>
</body>
</html>
